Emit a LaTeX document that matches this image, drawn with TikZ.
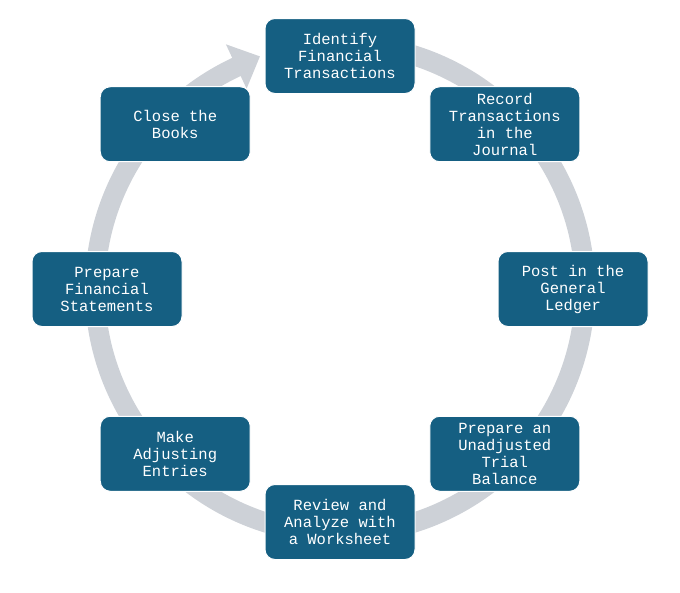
\documentclass[tikz,border=0pt]{standalone}
\usepackage{fontspec}
\setmonofont{Liberation Mono}
\usetikzlibrary{calc}
\definecolor{stepblue}{HTML}{155F82}
\definecolor{ringgray}{HTML}{CDD1D7}
\begin{document}
\begin{tikzpicture}[
    x=1pt, y=1pt,
    % box for each step of the cycle
    stepbox/.style={
        rectangle,
        fill=stepblue,
        draw=white,
        line width=1pt,
        rounded corners=10pt,
        minimum width=150pt,
        minimum height=75pt,
        align=center,
        text=white,
        font=\ttfamily\fontsize{15.5}{17}\selectfont
    }
]
    \useasboundingbox (0,0) rectangle (680,-592);
    \coordinate (c) at (340,-289);

    % ring with arrow head
    \fill[ringgray, shift={(c)}] (75:255) arc (75:-245:255) -- (-245:270)
        -- (-251:246) -- (-245:221) -- (-245:235) arc (-245:75:235) -- cycle;

    % steps
    \foreach \ang/\name/\txt in {
        90/ident/{Identify\\Financial\\Transactions},
        45/record/{Record\\Transactions\\in the\\Journal},
        0/post/{Post in the\\General\\Ledger},
        -45/trial/{Prepare an\\Unadjusted\\Trial\\Balance},
        -90/review/{Review and\\Analyze with\\a Worksheet},
        -135/adjust/{Make\\Adjusting\\Entries},
        180/stmts/{Prepare\\Financial\\Statements},
        135/close/{Close the\\Books}}
        \node[stepbox] (\name) at ($(c)+(\ang:233)$) {\txt};

\end{tikzpicture}
\end{document}
